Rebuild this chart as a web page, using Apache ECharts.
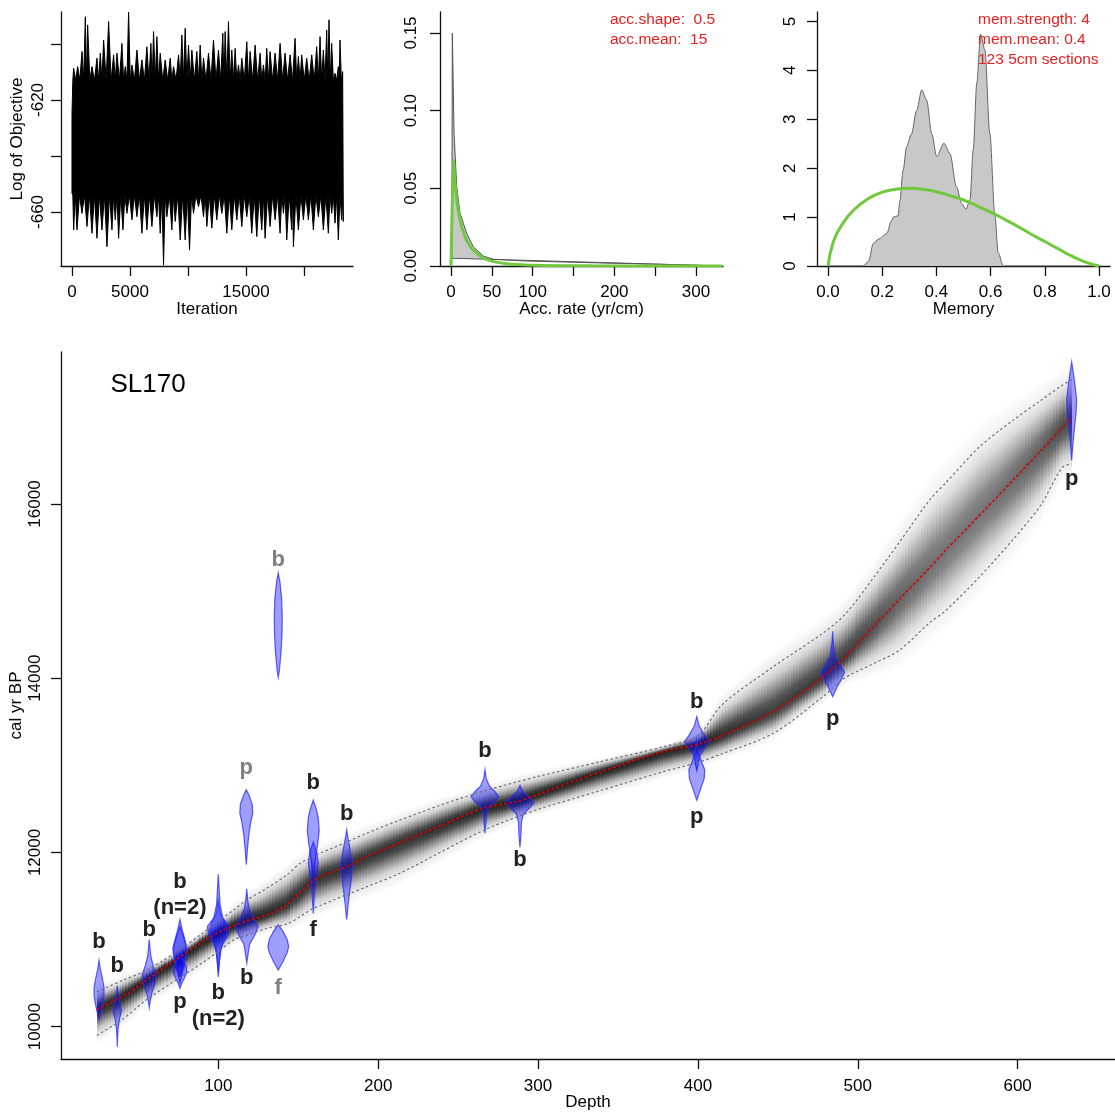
<!DOCTYPE html>
<html>
<head>
<meta charset="utf-8">
<script src="https://cdn.jsdelivr.net/npm/echarts@6/dist/echarts.min.js"></script>
<style>
  html, body { margin: 0; padding: 0; background: #fff; }
  #chart { width: 1115px; height: 1112px; }
</style>
</head>
<body>
<div id="chart"></div>
<script>
// ---------- MCMC trace of the log objective (local extremes along the run) ----------
const traceTopIter = [0,143,488,861,1148,1349,1722,2152,2440,2726,3157,3588,3874,4305,4592,4879,5166,5596,6027,6457,6802,7031,7318,7605,8036,8466,8753,9184,9471,9758,10045,10332,10762,11050,11337,11767,12198,12628,13001,13202,13489,13776,14063,14350,14637,15068,15355,15785,16216,16503,16790,17077,17507,17938,18368,18799,19229,19516,19803,20234,20664,21095,21382,21669,21956,22156,22386,22673,22960,23104,23333];
const traceTop = [-625,-608.7,-608.1,-602.7,-590.3,-593.2,-608.1,-605.1,-603.3,-598.6,-592,-603.9,-603.3,-599.8,-608.1,-588.5,-607.5,-602.2,-605.7,-601,-599.8,-595.6,-597.4,-603.3,-605.7,-605.1,-608.1,-603.9,-596.8,-594.4,-600.4,-602.2,-602.7,-600.4,-605.1,-603.3,-598.6,-602.2,-596.2,-595.6,-592,-602.2,-601.6,-607.5,-605.1,-599.2,-602.7,-600.4,-603.3,-607.5,-601.6,-602.7,-603.3,-599.8,-603.3,-603.9,-598,-604.5,-603.9,-605.1,-603.9,-601,-597.4,-602.2,-595,-591.4,-599.8,-610.5,-608.1,-598.6,-609.9];
const traceBottomIter = [0,143,431,861,1292,1722,2152,2583,3014,3444,3731,4018,4391,4736,5166,5596,6027,6457,6888,7318,7605,7892,8180,8610,8897,9328,9758,10131,10476,10906,11337,11624,12054,12485,12915,13346,13776,14207,14637,15068,15498,15929,16359,16646,17077,17507,17938,18225,18512,18942,19086,19516,19947,20377,20808,21238,21669,22099,22386,22673,22960,23247,23390];
const traceBottom = [-653.3,-666.4,-666.4,-660.5,-665.2,-667.6,-669.4,-666.4,-672.4,-666.4,-662.8,-669.4,-666.4,-660.5,-662.8,-661.7,-667.6,-666.4,-665.2,-661.7,-667.6,-679,-661.7,-666.4,-663.4,-670,-670,-673.6,-660.5,-658.1,-661.7,-665.2,-665.8,-662.8,-660.5,-667.6,-666.4,-662.8,-665.2,-661.7,-667.6,-668.8,-666.4,-669.4,-665.2,-662.8,-667.6,-660.5,-670,-666.4,-672.4,-666.4,-662.8,-662.8,-666.4,-661.7,-666.4,-667.6,-660.5,-664,-670,-662.8,-663.4];
const traceCore = [-613, -654];

// ---------- accumulation rate: posterior (grey) and prior (green) ----------
const accPostRate = [1, 1.6, 3.7, 7, 11, 19.2, 27.3, 39.6, 51.9, 92.7, 174, 256, 332];
const accPostDens = [0.005, 0.1499, 0.0855, 0.051, 0.034, 0.021, 0.0124, 0.0064, 0.0043, 0.0032, 0.0021, 0.0011, 0];
const accPriorRate = [0, 2.9, 4.5, 7, 11, 15, 19.2, 25, 31.5, 40, 51.9, 70, 92.7, 130, 174, 332];
const accPriorDens = [0, 0.068, 0.056, 0.0425, 0.0296, 0.022, 0.0167, 0.0115, 0.0082, 0.005, 0.0028, 0.0013, 0.0006, 0.0002, 0.0001, 0];
const accSettings = ['acc.shape:  0.5', 'acc.mean:  15'];

// ---------- memory: posterior (grey) and prior (green) ----------
const memPostX = [0, 0.13, 0.15, 0.167, 0.186, 0.216, 0.235, 0.241, 0.259, 0.265, 0.277, 0.29, 0.308, 0.327, 0.346, 0.364, 0.383, 0.401, 0.428, 0.45, 0.474, 0.493, 0.509, 0.524, 0.536, 0.549, 0.563, 0.579, 0.597, 0.616, 0.628, 0.647, 1.0];
const memPostY = [0, 0, 0.1, 0.46, 0.55, 0.66, 0.93, 1.0, 1.03, 1.33, 1.95, 2.44, 2.7, 3.18, 3.6, 3.39, 2.7, 2.24, 2.51, 2.3, 1.62, 1.28, 1.16, 1.36, 2.38, 3.74, 4.74, 4.42, 2.72, 1.02, 0.27, 0, 0];
const memPriorX = [0, 0.02, 0.05, 0.1, 0.15, 0.2, 0.25, 0.3, 0.35, 0.4, 0.45, 0.5, 0.55, 0.6, 0.65, 0.7, 0.75, 0.8, 0.85, 0.9, 0.95, 1.0];
const memPriorY = [0, 0.5, 0.83, 1.17, 1.38, 1.51, 1.57, 1.59, 1.57, 1.52, 1.44, 1.35, 1.23, 1.1, 0.96, 0.81, 0.65, 0.5, 0.35, 0.2, 0.08, 0];
const memSettings = ['mem.strength: 4', 'mem.mean: 0.4', '123 5cm sections'];

// ---------- age-depth model ----------
const coreName = 'SL170';
const modelDepth = [24, 40, 55, 72, 90, 101, 110, 118, 130, 143, 151, 158, 164, 172, 182, 193, 213, 240, 265, 287, 300, 337, 378, 400, 415, 447, 478, 492, 510, 526, 545, 555, 576, 597, 614, 628, 634];
const modelMean  = [10200, 10345, 10533, 10748, 10972, 11090, 11158, 11218, 11280, 11402, 11538, 11658, 11726, 11778, 11853, 11951, 12108, 12313, 12503, 12584, 12669, 12910, 13155, 13240, 13343, 13614, 14010, 14242, 14596, 14905, 15270, 15468, 15868, 16271, 16601, 16876, 16995];
const modelUpper = [10400, 10530, 10648, 10835, 11071, 11222, 11346, 11456, 11585, 11743, 11873, 11938, 11995, 12055, 12134, 12222, 12368, 12550, 12699, 12811, 12873, 13034, 13212, 13340, 13695, 14130, 14515, 14732, 15158, 15560, 16047, 16242, 16654, 16960, 17182, 17364, 17430];
const modelLower = [9900, 10083, 10308, 10517, 10732, 10879, 10999, 11050, 11127, 11179, 11262, 11344, 11391, 11454, 11527, 11608, 11756, 12012, 12247, 12409, 12495, 12699, 12925, 13034, 13132, 13366, 13786, 14004, 14169, 14321, 14639, 14777, 15161, 15590, 15974, 16421, 16460];

// ---------- calibrated dates: depth, kind, used in the model, probability profile ----------
const dateDepths = [25.4, 36.8, 56.8, 76, 76, 76, 100, 100, 117.8, 117.5, 137.5, 137.5, 159.4, 159.4, 180.3, 266.8, 288.7, 399.3, 399.3, 484.3, 633.8];
const dateLabels = ['b', 'b', 'b', 'b\n(n=2)', '', 'p', 'b\n(n=2)', '', 'b', 'p', 'f', 'b', 'b', 'f', 'b', 'b', 'b', 'b', 'p', 'p', 'p'];
const dateUsed   = [true, true, true, true, true, true, true, true, true, false, false, false, true, true, true, true, true, true, true, true, true];
// [cal age BP, probability per kyr]
const dateProbs = [
  [[10760,0],[10650,0.3],[10550,0.7],[10450,1.0],[10350,1.0],[10250,0.7],[10150,0.3],[10080,0]],
  [[10470,0],[10380,0.15],[10280,0.5],[10180,0.85],[10100,0.5],[10000,0.2],[9900,0.08],[9770,0]],
  [[11000,0],[10900,0.15],[10800,0.35],[10700,0.8],[10600,1.4],[10500,1.2],[10400,0.6],[10300,0.2],[10220,0]],
  [[11230,0],[11100,0.5],[11000,1.0],[10900,1.45],[10800,1.2],[10700,0.8],[10600,0.4],[10500,0]],
  [[11150,0],[11050,0.6],[10950,1.1],[10850,1.3],[10750,0.9],[10650,0.4],[10560,0]],
  [[10850,0],[10780,0.5],[10700,1.2],[10630,1.4],[10560,0.9],[10490,0.3],[10440,0]],
  [[11750,0],[11600,0.15],[11400,0.35],[11250,0.9],[11150,2.2],[11050,2.0],[10950,0.9],[10850,0.4],[10700,0.15],[10570,0]],
  [[11450,0],[11300,0.4],[11200,1.3],[11100,1.8],[11000,1.2],[10900,0.5],[10750,0.2],[10620,0]],
  [[11580,0],[11450,0.2],[11350,0.5],[11250,1.3],[11150,2.3],[11050,1.6],[10950,0.6],[10850,0.3],[10730,0]],
  [[12720,0],[12650,0.6],[12550,1.2],[12450,1.3],[12350,0.9],[12200,0.5],[12050,0.25],[11860,0]],
  [[11170,0],[11100,0.9],[11000,1.8],[10920,2.1],[10850,1.8],[10750,1.0],[10650,0]],
  [[15210,0],[15100,0.35],[14900,0.7],[14700,0.8],[14500,0.75],[14300,0.55],[14100,0.25],[14010,0]],
  [[12600,0],[12500,0.6],[12400,1.0],[12250,1.2],[12100,0.9],[11950,0.5],[11800,0.2],[11720,0]],
  [[12120,0],[12000,0.7],[11880,1.0],[11750,0.7],[11600,0.35],[11450,0.15],[11300,0]],
  [[12260,0],[12150,0.3],[12000,0.8],[11850,1.2],[11700,0.95],[11550,0.6],[11400,0.3],[11230,0]],
  [[12950,0],[12850,0.25],[12760,0.9],[12700,2.0],[12640,2.8],[12580,2.0],[12520,0.7],[12450,0.3],[12350,0.2],[12220,0]],
  [[12770,0],[12700,0.6],[12630,1.9],[12570,2.8],[12510,1.9],[12440,0.7],[12350,0.3],[12200,0.2],[12060,0]],
  [[13560,0],[13450,0.5],[13350,1.5],[13270,2.5],[13190,1.5],[13100,0.5],[13000,0.2],[12940,0]],
  [[13300,0],[13150,0.3],[13050,0.9],[12950,1.6],[12850,1.5],[12750,0.9],[12650,0.3],[12600,0]],
  [[14540,0],[14400,0.15],[14250,0.5],[14150,1.5],[14070,2.4],[13990,1.8],[13900,0.9],[13790,0]],
  [[17630,0],[17500,0.35],[17350,0.7],[17200,1.0],[17050,0.9],[16900,0.6],[16750,0.35],[16600,0.12],[16500,0]]
];

// label placement (side of the violin and gap in px to the label centre)
const labelSide = ['up','up','up','up','','down','down','','down','up','down','up','up','down','up','up','down','up','down','down','down'];
const labelGap  = [19, 20, 10, 25, 0, 14, 29, 0, 15, 22, 18, 13, 17, 17, 16, 19, 13, 15, 17, 22, 18];

const FONT = '"Liberation Sans", Arial, Helvetica, sans-serif';
const AX = '#111';
const GREEN = '#70c83c';
const VIOLIN_CM = 3.1; // half-width in depth units per unit of probability

function makeAxis(o) {
  return {
    type: 'value', gridIndex: o.grid, min: o.min, max: o.max,
    name: o.name, nameLocation: 'middle', nameGap: o.nameGap, nameMoveOverlap: false,
    nameTextStyle: { fontFamily: FONT, fontSize: 17, color: '#000' },
    axisLine: { show: true, onZero: false, lineStyle: { color: AX, width: 1.3 } },
    axisTick: { show: true, length: 10, lineStyle: { color: AX, width: 1.3 }, customValues: o.ticks },
    axisLabel: { show: true, customValues: o.labels, formatter: o.fmt, margin: o.margin,
                 rotate: o.rotate || 0, fontFamily: FONT, fontSize: 17, color: '#000', hideOverlap: false },
    splitLine: { show: false }
  };
}

// trace drawn as a sawtooth outline between the local highs and lows
function renderTrace(params, api) {
  const pts = [];
  const nT = traceTopIter.length, nB = traceBottomIter.length;
  for (let i = 0; i < nT; i++) {
    pts.push(api.coord([traceTopIter[i], traceTop[i]]));
    if (i < nT - 1) pts.push(api.coord([(traceTopIter[i] + traceTopIter[i + 1]) / 2, traceCore[0]]));
  }
  for (let i = nB - 1; i >= 0; i--) {
    pts.push(api.coord([traceBottomIter[i], traceBottom[i]]));
    if (i > 0) pts.push(api.coord([(traceBottomIter[i] + traceBottomIter[i - 1]) / 2, traceCore[1]]));
  }
  return { type: 'polygon', shape: { points: pts }, style: { fill: '#000', stroke: '#000', lineWidth: 1 } };
}

function renderAccPost(params, api) {
  const pts = accPostRate.map((x, i) => api.coord([x, accPostDens[i]]));
  return { type: 'polygon', shape: { points: pts }, style: { fill: '#c8c8c8', stroke: '#555', lineWidth: 1 } };
}

function nodePx(api, i) {
  const m = api.coord([modelDepth[i], modelMean[i]]);
  const u = api.coord([modelDepth[i], modelUpper[i]]);
  const l = api.coord([modelDepth[i], modelLower[i]]);
  return { x: m[0], m: m[1], u: u[1], l: l[1] };
}

// grey-scale age cloud: one column every ~3 px, shaded around the mean
function renderCloud(params, api) {
  const i = params.dataIndex;
  const a = nodePx(api, i), b = nodePx(api, i + 1);
  const n = Math.max(1, Math.round((b.x - a.x) / 3));
  const w = (b.x - a.x) / n;
  const tList = [2.7, 1.96, 1.5, 1.0, 0.5];
  const fList = [0, 0.1, 0.25, 0.55, 0.86];
  const children = [];
  for (let k = 0; k < n; k++) {
    const t = (k + 0.5) / n;
    const ym = a.m + (b.m - a.m) * t;
    const yu = a.u + (b.u - a.u) * t;
    const yl = a.l + (b.l - a.l) * t;
    const su = (ym - yu) / 1.96, sl = (yl - ym) / 1.96;
    const top = ym - 2.7 * su, bot = ym + 2.7 * sl, H = bot - top;
    const alpha = Math.max(0.55, Math.min(0.88, 1.0 - (yl - yu) * 0.0035));
    const stops = [];
    for (let j = 0; j < tList.length; j++) {
      stops.push({ offset: (ym - tList[j] * su - top) / H, color: 'rgba(0,0,0,' + (alpha * fList[j]).toFixed(3) + ')' });
    }
    stops.push({ offset: (ym - top) / H, color: 'rgba(0,0,0,' + alpha.toFixed(3) + ')' });
    for (let j = tList.length - 1; j >= 0; j--) {
      stops.push({ offset: (ym + tList[j] * sl - top) / H, color: 'rgba(0,0,0,' + (alpha * fList[j]).toFixed(3) + ')' });
    }
    const x0 = Math.round(a.x + k * w), x1 = Math.round(a.x + (k + 1) * w);
    if (x1 <= x0) continue;
    children.push({
      type: 'rect',
      shape: { x: x0, y: top, width: x1 - x0, height: H },
      style: { fill: { type: 'linear', x: 0, y: 0, x2: 0, y2: 1, colorStops: stops } }
    });
  }
  return { type: 'group', children };
}

function renderDate(params, api) {
  const i = params.dataIndex;
  const depth = dateDepths[i];
  const prof = dateProbs[i];
  const unit = api.size([VIOLIN_CM, 0])[0];
  const right = [], left = [];
  prof.forEach(([age, p]) => {
    const c = api.coord([depth, age]);
    right.push([c[0] + p * unit, c[1]]);
    left.push([c[0] - p * unit, c[1]]);
  });
  const pts = right.concat(left.slice(1, -1).reverse());
  const children = [{
    type: 'polygon', shape: { points: pts },
    style: { fill: 'rgba(0,0,255,0.38)', stroke: 'rgba(40,40,255,0.75)', lineWidth: 1.2 }
  }];
  if (dateLabels[i]) {
    const cx = api.coord([depth, prof[0][0]])[0];
    const yTop = api.coord([depth, prof[0][0]])[1];
    const yBot = api.coord([depth, prof[prof.length - 1][0]])[1];
    const y = labelSide[i] === 'up' ? yTop - labelGap[i] : yBot + labelGap[i];
    children.push({
      type: 'text',
      style: { text: dateLabels[i], x: cx, y: y, align: 'center', verticalAlign: 'middle',
               fontFamily: FONT, fontSize: 22, fontWeight: 'bold', lineHeight: 26,
               fill: dateUsed[i] ? '#222' : '#808080' }
    });
  }
  return { type: 'group', children };
}

const chart = echarts.init(document.getElementById('chart'), null, { renderer: 'canvas' });

const option = {
  animation: false,
  backgroundColor: '#fff',
  grid: [
    { left: 61, top: 12, width: 292, height: 254, outerBoundsMode: 'none' },
    { left: 440, top: 12, width: 283, height: 254, outerBoundsMode: 'none' },
    { left: 817, top: 12, width: 293, height: 254, outerBoundsMode: 'none' },
    { left: 61, top: 352, width: 1054, height: 707, outerBoundsMode: 'none' }
  ],
  xAxis: [
    makeAxis({ grid: 0, min: -948, max: 24224, name: 'Iteration', nameGap: 35, margin: 18,
               ticks: [0, 5000, 10000, 15000, 20000], labels: [0, 5000, 15000], fmt: v => String(v) }),
    makeAxis({ grid: 1, min: -13.5, max: 333, name: 'Acc. rate (yr/cm)', nameGap: 35, margin: 18,
               ticks: [0, 50, 100, 150, 200, 250, 300], labels: [0, 50, 100, 200, 300], fmt: v => String(v) }),
    makeAxis({ grid: 2, min: -0.0406, max: 1.0406, name: 'Memory', nameGap: 35, margin: 18,
               ticks: [0, 0.2, 0.4, 0.6, 0.8, 1], labels: [0, 0.2, 0.4, 0.6, 0.8, 1], fmt: v => v.toFixed(1) }),
    makeAxis({ grid: 3, min: 1.6, max: 660.9, name: 'Depth', nameGap: 35, margin: 19,
               ticks: [100, 200, 300, 400, 500, 600], labels: [100, 200, 300, 400, 500, 600], fmt: v => String(v) })
  ],
  yAxis: [
    makeAxis({ grid: 0, min: -679.3, max: -588.6, name: 'Log of Objective', nameGap: 35, margin: 14, rotate: 90,
               ticks: [-660, -640, -620, -600], labels: [-660, -620], fmt: v => String(v) }),
    makeAxis({ grid: 1, min: 0, max: 0.1635, name: '', nameGap: 30, margin: 20, rotate: 90,
               ticks: [0, 0.05, 0.1, 0.15], labels: [0, 0.05, 0.1, 0.15], fmt: v => v.toFixed(2) }),
    makeAxis({ grid: 2, min: 0, max: 5.194, name: '', nameGap: 30, margin: 18, rotate: 90,
               ticks: [0, 1, 2, 3, 4, 5], labels: [0, 1, 2, 3, 4, 5], fmt: v => String(v) }),
    makeAxis({ grid: 3, min: 9629, max: 17745, name: 'cal yr BP', nameGap: 36, margin: 17, rotate: 90,
               ticks: [10000, 12000, 14000, 16000], labels: [10000, 12000, 14000, 16000], fmt: v => String(v) })
  ],
  graphic: [
    { type: 'text', x: 148, y: 385, z: 100, style: { text: coreName, fontFamily: FONT, fontSize: 26, fill: '#000', align: 'center', verticalAlign: 'middle' } },
    ...accSettings.map((t, k) => ({ type: 'text', x: 610, y: 20 + k * 20, z: 100,
        style: { text: t, fontFamily: FONT, fontSize: 15.5, fill: '#e81e1e', align: 'left', verticalAlign: 'middle' } })),
    ...memSettings.map((t, k) => ({ type: 'text', x: 978, y: 20 + k * 20, z: 100,
        style: { text: t, fontFamily: FONT, fontSize: 15.5, fill: '#e81e1e', align: 'left', verticalAlign: 'middle' } }))
  ],
  series: [
    { type: 'custom', xAxisIndex: 0, yAxisIndex: 0, data: [[0, -630]], renderItem: renderTrace, clip: true, silent: true },
    { type: 'custom', xAxisIndex: 1, yAxisIndex: 1, data: [[0, 0]], renderItem: renderAccPost, silent: true, z: 2 },
    { type: 'line', xAxisIndex: 1, yAxisIndex: 1, data: accPriorRate.map((x, i) => [x, accPriorDens[i]]),
      showSymbol: false, smooth: 0.2, lineStyle: { color: GREEN, width: 3 }, silent: true, z: 3 },
    { type: 'line', xAxisIndex: 2, yAxisIndex: 2, data: memPostX.map((x, i) => [x, memPostY[i]]),
      showSymbol: false, smooth: 0.3, smoothMonotone: 'x', lineStyle: { color: '#666', width: 1 },
      areaStyle: { color: '#c8c8c8', opacity: 1 }, silent: true, z: 2 },
    { type: 'line', xAxisIndex: 2, yAxisIndex: 2, data: memPriorX.map((x, i) => [x, memPriorY[i]]),
      showSymbol: false, smooth: true, lineStyle: { color: GREEN, width: 3 }, silent: true, z: 3 },
    { type: 'custom', xAxisIndex: 3, yAxisIndex: 3, data: modelDepth.slice(0, -1).map((d, i) => [d, modelMean[i]]),
      renderItem: renderCloud, silent: true, z: 1 },
    { type: 'custom', xAxisIndex: 3, yAxisIndex: 3, data: dateDepths.map((d, i) => [d, dateProbs[i][0][0]]),
      renderItem: renderDate, silent: true, z: 2 },
    { type: 'line', xAxisIndex: 3, yAxisIndex: 3, data: modelDepth.map((d, i) => [d, modelUpper[i]]),
      showSymbol: false, smooth: 0.3, lineStyle: { color: '#707070', width: 1.2, type: [2.5, 2.5] }, silent: true, z: 3 },
    { type: 'line', xAxisIndex: 3, yAxisIndex: 3, data: modelDepth.map((d, i) => [d, modelLower[i]]),
      showSymbol: false, smooth: 0.3, lineStyle: { color: '#707070', width: 1.2, type: [2.5, 2.5] }, silent: true, z: 3 },
    { type: 'line', xAxisIndex: 3, yAxisIndex: 3, data: modelDepth.map((d, i) => [d, modelMean[i]]),
      showSymbol: false, smooth: 0.3, lineStyle: { color: '#e00000', width: 1.5, type: [3, 2] }, silent: true, z: 4 }
  ]
};

chart.setOption(option);
</script>
</body>
</html>
